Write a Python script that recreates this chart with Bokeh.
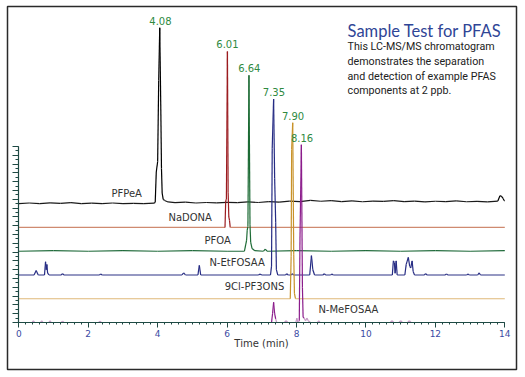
from bokeh.plotting import figure
from bokeh.models import Range1d, LinearAxis, SingleIntervalTicker, Label, ColumnDataSource
from bokeh.embed import file_html
from bokeh.resources import INLINE

# ---------------- data (time in min, relative abundance in % of each trace's own max) ----------------
names = ["PFPeA", "NaDONA", "PFOA", "N-EtFOSAA", "9Cl-PF3ONS", "N-MeFOSAA"]
retention = ["4.08", "6.01", "6.64", "7.35", "7.90", "8.16"]
rt_values = [4.08, 6.01, 6.64, 7.35, 7.90, 8.16]

pfpea_t = [0.0, 0.3, 0.6, 0.9, 1.2, 1.5, 1.8, 2.1, 2.4, 2.7, 3.0, 3.3, 3.6, 3.9, 3.93, 3.96, 4.0, 4.03,
           4.06, 4.09, 4.11, 4.13, 4.16, 4.2, 4.3, 4.5, 4.8, 5.1, 5.4, 5.7, 6.0, 6.3, 6.6, 6.9, 7.2, 7.5,
           7.8, 8.1, 8.4, 8.7, 9.0, 9.3, 9.6, 9.9, 10.2, 10.5, 10.8, 11.1, 11.4, 11.7, 12.0, 12.3, 12.6,
           12.9, 13.2, 13.5, 13.8, 13.86, 13.9, 13.95, 13.98, 14.0]
pfpea_y = [0.0, 0.4, 0.0, 0.5, 0.2, 0.6, 0.1, 0.3, 0.0, 0.4, 0.1, 0.2, 0.0, 0.3, 0.8, 18, 24, 70,
           100, 55, 20, 6, 2.5, 1.8, 1.0, 0.6, 0.9, 0.4, 0.7, 0.5, 0.8, 0.6, 1.0, 0.7, 1.2, 0.9,
           1.5, 1.2, 1.9, 1.4, 1.7, 1.2, 1.6, 1.1, 1.5, 1.3, 1.8, 1.2, 1.5, 1.0, 1.4, 1.2, 1.6,
           1.1, 1.3, 1.0, 1.5, 4.5, 4.3, 3.0, 1.8, 1.6]

nadona_t = [0.0, 5.94, 5.96, 5.98, 6.01, 6.03, 6.05, 6.07, 6.09, 14.0]
nadona_y = [0.0, 0.0, 15, 16, 100, 20, 6, 4, 0.0, 0.0]

pfoa_t = [0.0, 1.0, 2.0, 3.0, 4.0, 5.0, 6.0, 6.5, 6.56, 6.58, 6.60, 6.63, 6.66, 6.68, 6.72, 6.8,
          7.05, 7.1, 7.15, 8.0, 9.0, 10.0, 11.0, 12.0, 13.0, 14.0]
pfoa_y = [0.0, 0.3, 0.0, 0.3, 0.0, 0.3, 0.0, 0.0, 6, 12, 14, 100, 15, 5, 1.5, 0.3,
          0.0, 1.2, 0.0, 0.3, 0.0, 0.3, 0.0, 0.3, 0.0, 0.3]

etfosaa_t = [0.0, 0.44, 0.5, 0.56, 0.74, 0.77, 0.79, 0.81, 0.83, 0.87, 1.22, 1.26, 1.3, 2.32, 2.36,
             2.4, 4.7, 4.75, 4.8, 5.16, 5.2, 5.24, 6.9, 6.95, 7.0, 7.25, 7.28, 7.30, 7.34, 7.37,
             7.40, 7.42, 7.46, 7.68, 7.72, 7.76, 7.85, 7.88, 7.91, 8.38, 8.43, 8.47, 8.52, 8.76,
             8.8, 8.84, 8.98, 9.02, 9.06, 10.76, 10.79, 10.82, 10.84, 10.87, 10.9, 11.12, 11.16,
             11.22, 11.26, 11.29, 11.33, 11.36, 11.4, 11.68, 11.72, 11.76, 12.28, 12.32, 12.36,
             12.9, 12.94, 12.98, 13.22, 13.26, 13.3, 14.0]
etfosaa_y = [0, 0, 2.6, 0, 0, 7.5, 3, 6, 1, 0, 0, 0.8, 0, 0, 0.6,
             0, 0, 1.2, 0, 0, 5.5, 0, 0, 0.5, 0, 0, 5, 72, 100, 55,
             30, 3, 0, 0, 0.7, 0, 0, 0.8, 0, 0, 11, 3, 0, 0,
             0.7, 0, 0, 0.5, 0, 0, 8, 7, 1, 8, 0, 0, 6,
             10, 5, 4, 8, 2, 0, 0, 0.8, 0, 0, 0.5, 0,
             0, 0.5, 0, 0, 1.2, 0, 0]

pf3ons_t = [0.0, 7.82, 7.845, 7.86, 7.89, 7.92, 7.94, 7.97, 14.0]
pf3ons_y = [0, 0, 24, 85, 100, 25, 3, 0, 0]

mefosaa_t = [0.0, 0.38, 0.42, 0.46, 0.62, 0.66, 0.7, 0.86, 0.9, 0.94, 1.22, 1.26, 1.3, 2.3, 2.34,
             2.38, 7.28, 7.31, 7.34, 7.37, 7.40, 7.43, 7.5, 7.65, 7.7, 7.75, 7.98, 8.01, 8.04,
             8.08, 8.1, 8.14, 8.17, 8.19, 8.22, 8.26, 8.3, 8.34, 8.4, 8.6, 8.64, 8.68, 10.7,
             10.75, 10.8, 10.95, 11.0, 11.05, 11.2, 11.25, 11.3, 14.0]
mefosaa_y = [0, 0, 1, 0, 0, 1, 0, 0, 1, 0, 0, 0.8, 0, 0, 0.8,
             0, 0, 5, 11.5, 5, 2, 0, 0, 0, 1, 0, 0, 2.5, 0,
             1, 48, 101, 20, 3, 2.5, 1, 2.5, 1, 0, 0, 1, 0, 0,
             1, 0, 0, 1, 0, 0, 1, 0, 0]

traces_t = [pfpea_t, nadona_t, pfoa_t, etfosaa_t, pf3ons_t, mefosaa_t]
traces_y = [pfpea_y, nadona_y, pfoa_y, etfosaa_y, pf3ons_y, mefosaa_y]

title_text = "Sample Test for PFAS"
body_lines = ["This LC-MS/MS chromatogram", "demonstrates the separation",
              "and detection of example PFAS", "components at 2 ppb."]

# ---------------- layout / style ----------------
offsets = [67.5, 54.0, 40.5, 27.0, 13.5, 0.0]           # stacking offset of each trace (%)
peak_colors = ["#000000", "#9b1b1f", "#1d6b35", "#262c84", "#c8922a", "#8b1c8b"]
base_colors = ["#1a1a1a", "#cf8a70", "#1f6a3a", "#2d3386", "#dfb978", "#c79cc7"]
name_x = [2.67, 4.31, 5.35, 5.49, 5.93, 8.63]
name_dy = [10.7, 10.3, 10.3, 12.3, 12.3, 13.0]
body_y = [157.0, 148.3, 139.8, 131.8]
AXIS_COLOR = "#1f4a44"

p = figure(width=525, height=377, output_backend="svg", toolbar_location=None,
           x_range=Range1d(-0.3256, 14.337), y_range=Range1d(-26.70, 179.55),
           x_axis_location=None, y_axis_location=None,
           min_border_left=7, min_border_right=9, min_border_top=6, min_border_bottom=8)
p.xgrid.visible = False
p.ygrid.visible = False
p.outline_line_color = "#2a2a2a"
p.outline_line_width = 1.5
p.background_fill_color = "white"
p.border_fill_color = "white"

xaxis = LinearAxis(fixed_location=0, bounds=(0, 14),
                   ticker=SingleIntervalTicker(interval=2, num_minor_ticks=10),
                   axis_label="Time (min)")
xaxis.axis_line_color = AXIS_COLOR
xaxis.axis_line_width = 1.2
xaxis.major_tick_line_color = AXIS_COLOR
xaxis.minor_tick_line_color = AXIS_COLOR
xaxis.major_tick_in = 0
xaxis.major_tick_out = 5
xaxis.minor_tick_in = 0
xaxis.minor_tick_out = 2
xaxis.major_label_text_font = "DejaVu Sans"
xaxis.major_label_text_font_size = "9px"
xaxis.major_label_text_color = "#3a4ba3"
xaxis.major_label_standoff = 2
xaxis.axis_label_text_font = "DejaVu Sans"
xaxis.axis_label_text_font_size = "10px"
xaxis.axis_label_text_font_style = "normal"
xaxis.axis_label_text_color = "#333333"
xaxis.axis_label_standoff = -2
p.add_layout(xaxis, "below")

yaxis = LinearAxis(fixed_location=0, bounds=(0, 100),
                   ticker=SingleIntervalTicker(interval=5, num_minor_ticks=2))
yaxis.axis_line_color = AXIS_COLOR
yaxis.axis_line_width = 1.2
yaxis.major_tick_line_color = AXIS_COLOR
yaxis.minor_tick_line_color = AXIS_COLOR
yaxis.major_tick_in = 0
yaxis.major_tick_out = 6
yaxis.minor_tick_in = 0
yaxis.minor_tick_out = 3
yaxis.major_label_text_color = None
yaxis.major_label_text_font_size = "1px"
p.add_layout(yaxis, "left")

# traces drawn as segments so the baseline and the peaks can carry their own tone
for i in range(len(names)):
    t = traces_t[i]
    y = [v + offsets[i] for v in traces_y[i]]
    x0, y0, x1, y1, col = [], [], [], [], []
    for k in range(len(t) - 1):
        x0.append(t[k]); x1.append(t[k + 1]); y0.append(y[k]); y1.append(y[k + 1])
        on_base = max(traces_y[i][k], traces_y[i][k + 1]) < 3
        col.append(base_colors[i] if on_base else peak_colors[i])
    src = ColumnDataSource(dict(x0=x0, y0=y0, x1=x1, y1=y1, c=col))
    p.segment("x0", "y0", "x1", "y1", source=src, line_color="c", line_width=1.2)

    apex = max(traces_y[i]) + offsets[i]
    p.add_layout(Label(x=rt_values[i], y=apex, y_offset=7, text=retention[i],
                       text_align="center", text_baseline="middle",
                       text_font="DejaVu Sans", text_font_size="10px", text_color="#2f8a3f"))
    p.add_layout(Label(x=name_x[i], y=offsets[i], y_offset=name_dy[i], text=names[i],
                       text_align="left", text_baseline="middle",
                       text_font="DejaVu Sans", text_font_size="10px", text_color="#333333"))

p.add_layout(Label(x=9.47, y=165.9, text=title_text, text_align="left", text_baseline="middle",
                   text_font="Lato", text_font_size="16.5px", text_color="#2f4596"))
for j, line in enumerate(body_lines):
    p.add_layout(Label(x=9.47, y=body_y[j], text=line,
                       text_align="left", text_baseline="middle",
                       text_font="Roboto", text_font_size="10.7px",
                       text_color="#222222"))

open("out.html", "w").write(file_html(p, INLINE))
